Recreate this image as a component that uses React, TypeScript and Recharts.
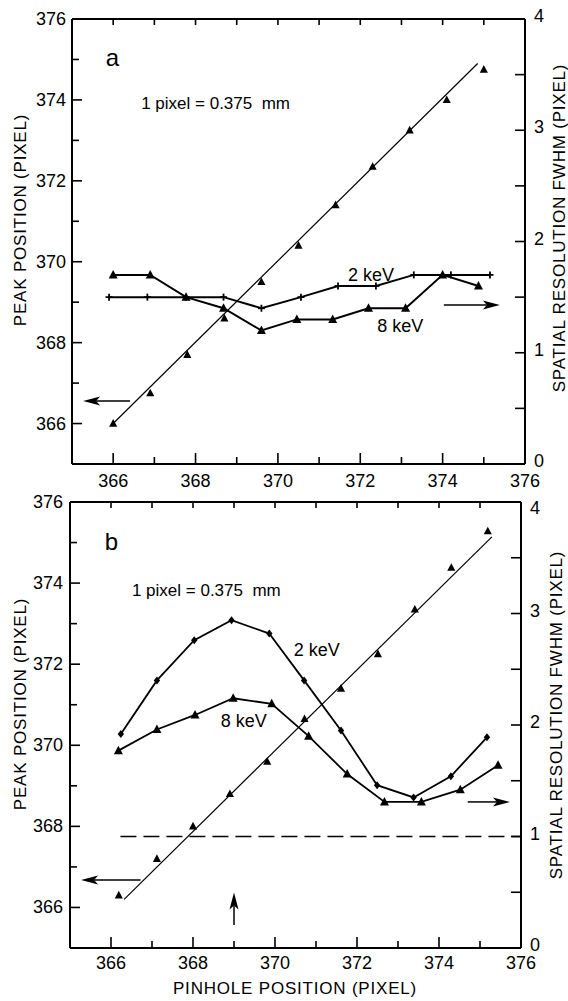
import React from 'react';
import { ComposedChart, Line, Scatter, XAxis, YAxis, ReferenceLine, ReferenceDot } from 'recharts';

const FONT = "'Liberation Sans', Arial, sans-serif";

// ---------- tick values ----------
const xTicks = [366, 367, 368, 369, 370, 371, 372, 373, 374, 375, 376];
const xTopTicks = [366, 367, 368, 369, 370, 371, 372, 373, 374, 375];
const yLeftTicks = [366, 367, 368, 369, 370, 371, 372, 373, 374, 375, 376];
const yRightTicks = [0, 0.5, 1, 1.5, 2, 2.5, 3, 3.5, 4];

// ---------- panel a ----------
const peakAX = [366.0, 366.9, 367.8, 368.7, 369.6, 370.5, 371.4, 372.3, 373.2, 374.1, 375.0];
const peakAY = [366.0, 366.75, 367.7, 368.6, 369.5, 370.4, 371.4, 372.35, 373.25, 374.0, 374.75];
const fitAX = [366.0, 374.85];
const fitAY = [366.0, 374.9];
const kev2AX = [365.9, 366.83, 367.77, 368.68, 369.6, 370.56, 371.46, 372.38, 373.3, 374.2, 375.15];
const kev2AY = [1.5, 1.5, 1.5, 1.5, 1.4, 1.5, 1.6, 1.6, 1.7, 1.7, 1.7];
const kev8AX = [366.0, 366.9, 367.77, 368.68, 369.6, 370.46, 371.33, 372.2, 373.1, 374.0, 374.87];
const kev8AY = [1.7, 1.7, 1.5, 1.4, 1.2, 1.3, 1.3, 1.4, 1.4, 1.7, 1.6];

// ---------- panel b ----------
const peakBX = [366.19, 367.12, 368.0, 368.9, 369.81, 370.72, 371.61, 372.51, 373.41, 374.3, 375.19];
const peakBY = [366.3, 367.2, 368.0, 368.8, 369.6, 370.65, 371.4, 372.25, 373.35, 374.38, 375.28];
const fitBX = [366.32, 375.29];
const fitBY = [366.2, 375.14];
const kev2BX = [366.24, 367.12, 368.03, 368.94, 369.86, 370.71, 371.61, 372.49, 373.38, 374.29, 375.17];
const kev2BY = [1.92, 2.4, 2.76, 2.94, 2.82, 2.4, 1.95, 1.46, 1.35, 1.54, 1.89];
const kev8BX = [366.18, 367.12, 368.05, 368.98, 369.92, 370.82, 371.76, 372.67, 373.57, 374.52, 375.44];
const kev8BY = [1.77, 1.96, 2.09, 2.24, 2.19, 1.9, 1.56, 1.31, 1.31, 1.42, 1.64];
const limitBX = [366.23, 376];
const limitBY = [1, 1];

const zip = (xs: number[], ys: number[]) => xs.map((x, i) => ({ x, y: ys[i] }));

// ---------- marker shapes ----------
const TriUp = ({ cx, cy, s }: any) => (
  <polygon points={`${cx},${cy - s} ${cx - s * 0.9},${cy + s * 0.7} ${cx + s * 0.9},${cy + s * 0.7}`} fill="#000" />
);
const Plus = ({ cx, cy, s }: any) => (
  <g stroke="#000" strokeWidth={1.8}>
    <line x1={cx - s} x2={cx + s} y1={cy} y2={cy} />
    <line x1={cx} x2={cx} y1={cy - s} y2={cy + s} />
  </g>
);
const Diamond = ({ cx, cy, s }: any) => (
  <polygon points={`${cx},${cy - s} ${cx + s * 0.8},${cy} ${cx},${cy + s} ${cx - s * 0.8},${cy}`} fill="#000" />
);

// ---------- tick factories ----------
const leftTick = (gap: number) => (p: any) => {
  const { x, y, payload } = p;
  const v = payload.value;
  const major = v % 2 === 0;
  return (
    <g>
      {v !== 376 && <line x1={x} x2={x + (major ? 10 : 7)} y1={y} y2={y} stroke="#000" strokeWidth={1.6} />}
      {major && (
        <text x={x - gap} y={y} textAnchor="end" dominantBaseline="central" fontSize={18} fontFamily={FONT} fill="#000">
          {v}
        </text>
      )}
    </g>
  );
};
const rightTick = (gap: number, topShift: number) => (p: any) => {
  const { x, y, payload } = p;
  const v = payload.value;
  const major = Number.isInteger(v);
  const dy = v === 4 ? topShift : -3;
  return (
    <g>
      {v > 0 && v < 4 && <line x1={x} x2={x - 10} y1={y} y2={y} stroke="#000" strokeWidth={1.6} />}
      {major && (
        <text x={x + gap} y={y + dy} textAnchor="start" dominantBaseline="central" fontSize={18} fontFamily={FONT} fill="#000">
          {v}
        </text>
      )}
    </g>
  );
};
const bottomTick = (off: number) => (p: any) => {
  const { x, y, payload } = p;
  const v = payload.value;
  const major = v % 2 === 0;
  return (
    <g>
      {v < 376 && <line x1={x} x2={x} y1={y} y2={y - (major ? 11 : 7)} stroke="#000" strokeWidth={1.6} />}
      {major && (
        <text x={x} y={y + off} textAnchor="middle" dominantBaseline="central" fontSize={18} fontFamily={FONT} fill="#000">
          {v}
        </text>
      )}
    </g>
  );
};
const topTick = (p: any) => {
  const { x, y } = p;
  return <line x1={x} x2={x} y1={y} y2={y + 6} stroke="#000" strokeWidth={1.6} />;
};

// ---------- annotations ----------
const textShape = (txt: string, size: number, anchor: string = 'middle') => (p: any) => (
  <text
    x={p.cx}
    y={p.cy}
    textAnchor={anchor}
    dominantBaseline="central"
    fontSize={size}
    fontFamily={FONT}
    fill="#000"
    style={{ whiteSpace: 'pre' }}
  >
    {txt}
  </text>
);

const Arrow = (p: any) => {
  const { x1, y1, x2, y2 } = p;
  const dx = x2 - x1;
  const dy = y2 - y1;
  const len = Math.hypot(dx, dy) || 1;
  const ux = dx / len;
  const uy = dy / len;
  const hl = 17;
  const hw = 4.5;
  const bx = x2 - ux * hl;
  const by = y2 - uy * hl;
  const nx = x2 - ux * (hl - 4);
  const ny = y2 - uy * (hl - 4);
  return (
    <g>
      <line x1={x1} y1={y1} x2={nx} y2={ny} stroke="#000" strokeWidth={1.5} />
      <polygon
        points={`${x2},${y2} ${bx - uy * hw},${by + ux * hw} ${nx},${ny} ${bx + uy * hw},${by - ux * hw}`}
        fill="#000"
      />
    </g>
  );
};

const titleText = (txt: string, cx: number, cy: number) => (
  <text
    transform={`translate(${cx},${cy}) rotate(-90)`}
    textAnchor="middle"
    dominantBaseline="central"
    fontSize={17}
    letterSpacing={0.8}
    fontFamily={FONT}
    fill="#000"
  >
    {txt}
  </text>
);

const axisLine = { stroke: '#000', strokeWidth: 2 };

function PanelA() {
  return (
    <ComposedChart width={568} height={490} margin={{ top: 14, left: 32, right: 13, bottom: 0 }}>
      <XAxis
        xAxisId="b"
        type="number"
        dataKey="x"
        domain={[365, 376]}
        ticks={xTicks}
        interval={0}
        allowDataOverflow
        height={26}
        tickSize={0}
        tickMargin={0}
        tickLine={false}
        axisLine={axisLine}
        tick={bottomTick(16.5)}
      />
      <XAxis
        xAxisId="t"
        orientation="top"
        type="number"
        dataKey="x"
        domain={[365, 376]}
        ticks={xTopTicks}
        interval={0}
        allowDataOverflow
        height={5}
        tickSize={0}
        tickMargin={0}
        tickLine={false}
        axisLine={axisLine}
        tick={topTick}
      />
      <YAxis
        yAxisId="l"
        type="number"
        dataKey="y"
        domain={[365, 376]}
        ticks={yLeftTicks}
        interval={0}
        allowDataOverflow
        width={40}
        tickSize={0}
        tickMargin={0}
        tickLine={false}
        axisLine={axisLine}
        tick={leftTick(6)}
        label={{ content: () => titleText('PEAK POSITION (PIXEL)', 20, 220) }}
      />
      <YAxis
        yAxisId="r"
        orientation="right"
        type="number"
        dataKey="y"
        domain={[0, 4]}
        ticks={yRightTicks}
        interval={0}
        allowDataOverflow
        width={30}
        tickSize={0}
        tickMargin={0}
        tickLine={false}
        axisLine={axisLine}
        tick={rightTick(9, -3)}
        label={{ content: () => titleText('SPATIAL RESOLUTION FWHM (PIXEL)', 559, 228) }}
      />
      <Line
        xAxisId="b"
        yAxisId="l"
        data={zip(fitAX, fitAY)}
        dataKey="y"
        type="linear"
        stroke="#000"
        strokeWidth={1.2}
        dot={false}
        activeDot={false}
        isAnimationActive={false}
      />
      <Line
        xAxisId="b"
        yAxisId="r"
        data={zip(kev2AX, kev2AY)}
        dataKey="y"
        type="linear"
        stroke="#000"
        strokeWidth={2}
        dot={(p: any) => <Plus key={p.index} cx={p.cx} cy={p.cy} s={3.5} />}
        activeDot={false}
        isAnimationActive={false}
      />
      <Line
        xAxisId="b"
        yAxisId="r"
        data={zip(kev8AX, kev8AY)}
        dataKey="y"
        type="linear"
        stroke="#000"
        strokeWidth={2}
        dot={(p: any) => <TriUp key={p.index} cx={p.cx} cy={p.cy} s={5} />}
        activeDot={false}
        isAnimationActive={false}
      />
      <Scatter
        xAxisId="b"
        yAxisId="l"
        data={zip(peakAX, peakAY)}
        shape={(p: any) => <TriUp cx={p.cx} cy={p.cy} s={4.5} />}
        isAnimationActive={false}
      />
      <ReferenceLine
        xAxisId="b"
        yAxisId="l"
        segment={[{ x: 366.41, y: 366.56 }, { x: 365.27, y: 366.56 }]}
        shape={Arrow}
        ifOverflow="visible"
      />
      <ReferenceLine
        xAxisId="b"
        yAxisId="r"
        segment={[{ x: 374.03, y: 1.43 }, { x: 375.39, y: 1.43 }]}
        shape={Arrow}
        ifOverflow="visible"
      />
      <ReferenceDot xAxisId="b" yAxisId="l" x={365.98} y={375.05} r={0} ifOverflow="visible" shape={textShape('a', 24)} />
      <ReferenceDot xAxisId="b" yAxisId="l" x={366.68} y={373.92} r={0} ifOverflow="visible" shape={textShape('1 pixel = 0.375  mm', 17, 'start')} />
      <ReferenceDot xAxisId="b" yAxisId="l" x={372.26} y={369.67} r={0} ifOverflow="visible" shape={textShape('2 keV', 18)} />
      <ReferenceDot xAxisId="b" yAxisId="l" x={372.97} y={368.4} r={0} ifOverflow="visible" shape={textShape('8 keV', 18)} />
    </ComposedChart>
  );
}

function PanelB() {
  return (
    <ComposedChart width={568} height={511} margin={{ top: 7, left: 30, right: 17, bottom: 0 }}>
      <XAxis
        xAxisId="b"
        type="number"
        dataKey="x"
        domain={[365, 376]}
        ticks={xTicks}
        interval={0}
        allowDataOverflow
        height={53}
        tickSize={0}
        tickMargin={0}
        tickLine={false}
        axisLine={axisLine}
        tick={bottomTick(15)}
        label={{
          content: () => (
            <text x={295} y={498} textAnchor="middle" dominantBaseline="central" fontSize={17} letterSpacing={0.8} fontFamily={FONT} fill="#000">
              PINHOLE POSITION (PIXEL)
            </text>
          ),
        }}
      />
      <XAxis
        xAxisId="t"
        orientation="top"
        type="number"
        dataKey="x"
        domain={[365, 376]}
        ticks={xTopTicks}
        interval={0}
        allowDataOverflow
        height={5}
        tickSize={0}
        tickMargin={0}
        tickLine={false}
        axisLine={axisLine}
        tick={topTick}
      />
      <YAxis
        yAxisId="l"
        type="number"
        dataKey="y"
        domain={[365, 376]}
        ticks={yLeftTicks}
        interval={0}
        allowDataOverflow
        width={40}
        tickSize={0}
        tickMargin={0}
        tickLine={false}
        axisLine={axisLine}
        tick={leftTick(7)}
        label={{ content: () => titleText('PEAK POSITION (PIXEL)', 20, 214) }}
      />
      <YAxis
        yAxisId="r"
        orientation="right"
        type="number"
        dataKey="y"
        domain={[0, 4]}
        ticks={yRightTicks}
        interval={0}
        allowDataOverflow
        width={30}
        tickSize={0}
        tickMargin={0}
        tickLine={false}
        axisLine={axisLine}
        tick={rightTick(9, 6)}
        label={{ content: () => titleText('SPATIAL RESOLUTION FWHM (PIXEL)', 556, 225) }}
      />
      <Line
        xAxisId="b"
        yAxisId="r"
        data={zip(limitBX, limitBY)}
        dataKey="y"
        type="linear"
        stroke="#000"
        strokeWidth={1.5}
        strokeDasharray="16 7"
        dot={false}
        activeDot={false}
        isAnimationActive={false}
      />
      <Line
        xAxisId="b"
        yAxisId="l"
        data={zip(fitBX, fitBY)}
        dataKey="y"
        type="linear"
        stroke="#000"
        strokeWidth={1.2}
        dot={false}
        activeDot={false}
        isAnimationActive={false}
      />
      <Line
        xAxisId="b"
        yAxisId="r"
        data={zip(kev2BX, kev2BY)}
        dataKey="y"
        type="linear"
        stroke="#000"
        strokeWidth={1.8}
        dot={(p: any) => <Diamond key={p.index} cx={p.cx} cy={p.cy} s={4} />}
        activeDot={false}
        isAnimationActive={false}
      />
      <Line
        xAxisId="b"
        yAxisId="r"
        data={zip(kev8BX, kev8BY)}
        dataKey="y"
        type="linear"
        stroke="#000"
        strokeWidth={1.8}
        dot={(p: any) => <TriUp key={p.index} cx={p.cx} cy={p.cy} s={5} />}
        activeDot={false}
        isAnimationActive={false}
      />
      <Scatter
        xAxisId="b"
        yAxisId="l"
        data={zip(peakBX, peakBY)}
        shape={(p: any) => <TriUp cx={p.cx} cy={p.cy} s={4.5} />}
        isAnimationActive={false}
      />
      <ReferenceLine
        xAxisId="b"
        yAxisId="l"
        segment={[{ x: 366.72, y: 366.68 }, { x: 365.27, y: 366.68 }]}
        shape={Arrow}
        ifOverflow="visible"
      />
      <ReferenceLine
        xAxisId="b"
        yAxisId="r"
        segment={[{ x: 374.7, y: 1.31 }, { x: 375.73, y: 1.31 }]}
        shape={Arrow}
        ifOverflow="visible"
      />
      <ReferenceLine
        xAxisId="b"
        yAxisId="l"
        segment={[{ x: 369.0, y: 365.57 }, { x: 369.0, y: 366.37 }]}
        shape={Arrow}
        ifOverflow="visible"
      />
      <ReferenceDot xAxisId="b" yAxisId="l" x={366.01} y={375.02} r={0} ifOverflow="visible" shape={textShape('b', 24)} />
      <ReferenceDot xAxisId="b" yAxisId="l" x={366.51} y={373.82} r={0} ifOverflow="visible" shape={textShape('1 pixel = 0.375  mm', 17, 'start')} />
      <ReferenceDot xAxisId="b" yAxisId="l" x={371.02} y={372.36} r={0} ifOverflow="visible" shape={textShape('2 keV', 18)} />
      <ReferenceDot xAxisId="b" yAxisId="l" x={369.24} y={370.6} r={0} ifOverflow="visible" shape={textShape('8 keV', 18)} />
    </ComposedChart>
  );
}

export default function App() {
  return (
    <div style={{ position: 'absolute', left: 0, top: 0, width: 568, height: 1001, background: '#fff' }}>
      <div style={{ position: 'absolute', left: 0, top: 0 }}>
        <PanelA />
      </div>
      <div style={{ position: 'absolute', left: 0, top: 490 }}>
        <PanelB />
      </div>
    </div>
  );
}
